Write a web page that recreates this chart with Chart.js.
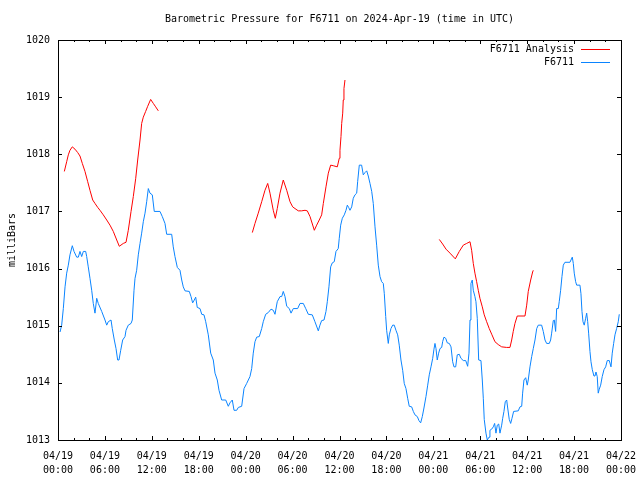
<!DOCTYPE html>
<html>
<head>
<meta charset="utf-8">
<script src="https://cdn.jsdelivr.net/npm/chart.js@4/dist/chart.umd.min.js"></script>
<style>
  html, body { margin: 0; padding: 0; background: #fff; }
  #wrap { width: 640px; height: 480px; }
</style>
</head>
<body>
<div id="wrap"><canvas id="pressureChart" width="640" height="480"></canvas></div>
<script>
// hours since 2024-04-19 00:00 UTC
const tickDates = ['04/19', '04/19', '04/19', '04/19', '04/20', '04/20', '04/20', '04/20', '04/21', '04/21', '04/21', '04/21', '04/22'];
const tickTimes = ['00:00', '06:00', '12:00', '18:00', '00:00', '06:00', '12:00', '18:00', '00:00', '06:00', '12:00', '18:00', '00:00'];

const obsHours = [
    0.26, 0.47, 0.68, 0.90, 1.11, 1.32, 1.53, 1.83, 2.05, 2.39, 2.60, 2.81, 3.03, 3.24, 3.54, 3.67, 3.87, 4.09, 4.31, 4.51,
    4.73, 4.95, 5.15, 5.59, 6.01, 6.23, 6.43, 6.78, 6.94, 7.20, 7.42, 7.63, 7.80, 8.02, 8.27, 8.57, 8.70, 8.99, 9.34, 9.50,
    9.72, 9.85, 10.06, 10.27, 10.49, 10.70, 10.91, 11.13, 11.34, 11.55, 11.76, 12.06, 12.31, 13.04, 13.34, 13.68, 13.90, 14.54, 14.74, 14.96,
    15.26, 15.60, 15.82, 16.02, 16.24, 16.79, 17.01, 17.22, 17.43, 17.61, 17.81, 18.16, 18.38, 18.67, 18.89, 19.22, 19.53, 19.86, 20.08, 20.37,
    20.59, 20.93, 21.45, 21.78, 21.99, 22.29, 22.51, 22.85, 23.06, 23.49, 23.79, 24.13, 24.55, 24.77, 24.97, 25.19, 25.41, 25.74, 26.05, 26.25,
    26.56, 26.89, 27.24, 27.53, 27.75, 28.04, 28.39, 28.61, 28.81, 29.03, 29.25, 29.58, 29.80, 30.09, 30.65, 30.95, 31.37, 31.68, 32.01, 32.52,
    32.86, 33.29, 33.50, 33.72, 34.02, 34.27, 34.44, 34.65, 34.87, 35.08, 35.33, 35.55, 35.84, 35.97, 36.15, 36.36, 36.61, 36.83, 37.00, 37.17,
    37.34, 37.56, 37.76, 37.98, 38.20, 38.32, 38.53, 38.83, 39.04, 39.26, 39.48, 39.68, 39.90, 40.12, 40.32, 40.54, 40.75, 40.96, 41.18, 41.39,
    41.60, 41.73, 41.91, 42.03, 42.24, 42.37, 42.58, 42.80, 43.00, 43.22, 43.44, 43.64, 43.86, 44.08, 44.28, 44.50, 44.72, 44.92, 45.23, 45.44,
    45.65, 45.95, 46.16, 46.38, 46.59, 46.80, 47.06, 47.28, 47.48, 47.70, 47.92, 48.08, 48.21, 48.34, 48.50, 48.68, 48.85, 49.07, 49.19, 49.36,
    49.58, 49.78, 50.04, 50.26, 50.47, 50.64, 50.86, 51.06, 51.32, 51.53, 51.83, 52.14, 52.39, 52.56, 52.69, 52.81, 52.98, 53.11, 53.32, 53.45,
    53.62, 53.80, 54.09, 54.26, 54.39, 54.51, 54.73, 54.90, 55.12, 55.24, 55.46, 55.67, 55.84, 56.01, 56.18, 56.36, 56.52, 56.74, 56.87, 57.03,
    57.20, 57.38, 57.51, 57.71, 57.89, 58.06, 58.27, 58.86, 59.08, 59.30, 59.42, 59.59, 59.81, 60.01, 60.14, 60.36, 60.58, 60.78, 61.00, 61.22,
    61.42, 61.85, 62.06, 62.28, 62.49, 62.83, 63.00, 63.13, 63.34, 63.47, 63.64, 63.77, 63.98, 64.10, 64.28, 64.45, 64.62, 64.83, 65.47, 65.60,
    65.77, 65.90, 66.02, 66.20, 66.33, 66.75, 66.88, 67.01, 67.14, 67.30, 67.48, 67.61, 67.74, 67.86, 68.03, 68.16, 68.33, 68.54, 68.67, 68.80,
    68.96, 69.09, 69.22, 69.40, 69.60, 69.82, 70.04, 70.24, 70.50, 70.72, 70.88, 71.06, 71.23, 71.44, 71.65, 71.78
];
const obsValues = [
    1014.89, 1015.01, 1015.30, 1015.68, 1015.92, 1016.06, 1016.24, 1016.40, 1016.30, 1016.20, 1016.20, 1016.30, 1016.21, 1016.30, 1016.30, 1016.21, 1016.03, 1015.83, 1015.62, 1015.39,
    1015.22, 1015.48, 1015.39, 1015.25, 1015.10, 1015.01, 1015.07, 1015.10, 1014.95, 1014.75, 1014.60, 1014.40, 1014.40, 1014.57, 1014.75, 1014.81, 1014.92, 1015.01, 1015.04, 1015.10,
    1015.62, 1015.83, 1015.97, 1016.24, 1016.44, 1016.62, 1016.82, 1016.97, 1017.17, 1017.40, 1017.32, 1017.29, 1017.00, 1017.00, 1016.91, 1016.79, 1016.60, 1016.60, 1016.38, 1016.21,
    1016.02, 1015.97, 1015.80, 1015.68, 1015.61, 1015.60, 1015.51, 1015.40, 1015.45, 1015.50, 1015.32, 1015.30, 1015.20, 1015.19, 1015.07, 1014.84, 1014.52, 1014.40, 1014.17, 1014.05,
    1013.87, 1013.70, 1013.70, 1013.59, 1013.65, 1013.70, 1013.52, 1013.52, 1013.57, 1013.59, 1013.90, 1013.99, 1014.11, 1014.25, 1014.52, 1014.72, 1014.80, 1014.81, 1014.95, 1015.07,
    1015.20, 1015.23, 1015.29, 1015.27, 1015.20, 1015.42, 1015.51, 1015.51, 1015.60, 1015.51, 1015.34, 1015.30, 1015.22, 1015.30, 1015.30, 1015.39, 1015.39, 1015.30, 1015.20, 1015.19,
    1015.07, 1014.91, 1015.01, 1015.09, 1015.10, 1015.25, 1015.42, 1015.68, 1016.03, 1016.10, 1016.12, 1016.30, 1016.35, 1016.53, 1016.76, 1016.88, 1016.94, 1017.02, 1017.11, 1017.07,
    1017.02, 1017.08, 1017.23, 1017.29, 1017.32, 1017.52, 1017.81, 1017.81, 1017.64, 1017.68, 1017.71, 1017.62, 1017.49, 1017.35, 1017.14, 1016.73, 1016.41, 1016.06, 1015.86, 1015.77,
    1015.74, 1015.56, 1015.16, 1014.92, 1014.69, 1014.84, 1014.95, 1015.01, 1015.01, 1014.92, 1014.84, 1014.66, 1014.40, 1014.22, 1013.99, 1013.90, 1013.73, 1013.59, 1013.58, 1013.50,
    1013.44, 1013.41, 1013.34, 1013.30, 1013.41, 1013.56, 1013.76, 1013.96, 1014.14, 1014.28, 1014.43, 1014.59, 1014.69, 1014.60, 1014.40, 1014.52, 1014.60, 1014.62, 1014.72, 1014.80,
    1014.78, 1014.70, 1014.69, 1014.63, 1014.37, 1014.28, 1014.28, 1014.49, 1014.50, 1014.43, 1014.39, 1014.39, 1014.29, 1014.52, 1015.10, 1015.74, 1015.80, 1015.62, 1015.51, 1015.42,
    1015.13, 1014.40, 1014.39, 1014.05, 1013.73, 1013.36, 1013.12, 1013.00, 1013.05, 1013.17, 1013.19, 1013.23, 1013.29, 1013.12, 1013.26, 1013.28, 1013.12, 1013.26, 1013.38, 1013.50,
    1013.67, 1013.70, 1013.56, 1013.36, 1013.29, 1013.38, 1013.50, 1013.51, 1013.58, 1013.59, 1013.82, 1014.05, 1014.09, 1013.96, 1014.05, 1014.28, 1014.46, 1014.60, 1014.75, 1014.95,
    1015.01, 1015.01, 1014.90, 1014.75, 1014.69, 1014.69, 1014.75, 1014.87, 1015.09, 1015.10, 1014.90, 1015.30, 1015.30, 1015.42, 1015.62, 1015.86, 1016.06, 1016.11, 1016.11, 1016.15,
    1016.20, 1016.09, 1015.92, 1015.77, 1015.71, 1015.71, 1015.56, 1015.25, 1015.07, 1015.01, 1015.13, 1015.22, 1015.07, 1014.87, 1014.55, 1014.37, 1014.23, 1014.12, 1014.12, 1014.19,
    1014.11, 1013.82, 1013.89, 1013.96, 1014.11, 1014.23, 1014.28, 1014.39, 1014.39, 1014.28, 1014.52, 1014.69, 1014.84, 1014.95, 1015.07, 1015.20
];

// analysis has gaps: null breaks the line
const anaHours = [
    0.81, 1.11, 1.32, 1.53, 1.83, 2.17, 2.52, 2.81, 3.11, 3.45, 3.80, 4.09, 4.44, 4.73, 5.08, 5.37, 5.79, 6.23, 6.65, 7.07,
    7.51, 7.84, 8.35, 8.70, 8.99, 9.34, 9.63, 9.94, 10.19, 10.49, 10.70, 10.91, 11.21, 11.47, 11.85, 12.19, 12.49, 12.83,
    18.00,
    24.85, 25.19, 25.61, 26.05, 26.47, 26.82, 27.11, 27.53, 27.79, 28.04, 28.39, 28.81, 29.25, 29.67, 30.01, 30.31, 30.73, 31.16, 31.59, 31.88,
    32.23, 32.78, 33.08, 33.41, 33.72, 33.93, 34.27, 34.57, 34.87, 35.20, 35.72, 35.97, 36.06, 36.19, 36.28, 36.41, 36.48, 36.57, 36.70,
    42.00,
    48.76, 49.19, 49.62, 50.13, 50.81, 51.32, 51.83, 52.26, 52.69, 52.90, 53.11, 53.32, 53.54, 53.75, 53.96, 54.26, 54.51, 54.82, 55.15, 55.50,
    55.88, 56.30, 56.74, 57.38, 57.80, 58.02, 58.22, 58.44, 58.73, 59.72, 59.94, 60.14, 60.45, 60.70, 60.78
];
const anaValues = [
    1017.70, 1017.87, 1017.99, 1018.07, 1018.13, 1018.09, 1018.03, 1017.97, 1017.84, 1017.70, 1017.52, 1017.37, 1017.20, 1017.14, 1017.07, 1017.02, 1016.94, 1016.85, 1016.76, 1016.65,
    1016.50, 1016.39, 1016.44, 1016.46, 1016.67, 1017.00, 1017.26, 1017.58, 1017.90, 1018.25, 1018.54, 1018.65, 1018.75, 1018.84, 1018.96, 1018.89, 1018.83, 1018.76,
    null,
    1016.63, 1016.79, 1016.97, 1017.17, 1017.37, 1017.49, 1017.32, 1017.02, 1016.88, 1017.05, 1017.32, 1017.55, 1017.37, 1017.17, 1017.08, 1017.05, 1017.01, 1017.01, 1017.02, 1017.01,
    1016.91, 1016.67, 1016.76, 1016.85, 1016.94, 1017.14, 1017.43, 1017.67, 1017.81, 1017.80, 1017.78, 1017.93, 1018.07, 1018.31, 1018.54, 1018.72, 1018.95, 1019.15, 1019.30,
    null,
    1016.51, 1016.43, 1016.34, 1016.27, 1016.17, 1016.30, 1016.41, 1016.44, 1016.47, 1016.32, 1016.09, 1015.92, 1015.77, 1015.62, 1015.48, 1015.33, 1015.19, 1015.07, 1014.95, 1014.84,
    1014.72, 1014.67, 1014.63, 1014.62, 1014.62, 1014.75, 1014.90, 1015.04, 1015.17, 1015.17, 1015.36, 1015.60, 1015.80, 1015.94, 1015.97
];

const FONT = "'DejaVu Sans Mono', 'Liberation Mono', monospace";
Chart.defaults.font.family = FONT;
Chart.defaults.font.size = 10;
Chart.defaults.color = '#000000';

const toPoints = (xs, ys) => xs.map((x, i) => ({ x: x, y: ys[i] }));

// gnuplot-like frame: box, inward ticks, title, rotated y title, legend inside top right
const framePlugin = {
    id: 'frame',
    afterDraw(chart) {
        const { ctx, chartArea: a, scales } = chart;
        const xs = scales.x;
        const ys = scales.y;
        ctx.save();
        ctx.strokeStyle = '#000000';
        ctx.lineWidth = 1;
        ctx.strokeRect(a.left + 0.5, a.top + 0.5, a.right - a.left, a.bottom - a.top);

        ctx.beginPath();
        for (let h = 0; h <= 72; h += 2) {
            const px = Math.round(xs.getPixelForValue(h)) + 0.5;
            const len = h % 6 === 0 ? 4 : 2;
            ctx.moveTo(px, a.bottom);
            ctx.lineTo(px, a.bottom - len);
            ctx.moveTo(px, a.top);
            ctx.lineTo(px, a.top + len);
        }
        for (let v = 1013; v <= 1020; v++) {
            const py = Math.round(ys.getPixelForValue(v)) + 0.5;
            ctx.moveTo(a.left, py);
            ctx.lineTo(a.left + 4, py);
            ctx.moveTo(a.right, py);
            ctx.lineTo(a.right - 4, py);
        }
        ctx.stroke();

        ctx.fillStyle = '#000000';
        ctx.font = '10px ' + FONT;
        ctx.textAlign = 'center';
        ctx.textBaseline = 'middle';
        ctx.fillText('Barometric Pressure for F6711 on 2024-Apr-19 (time in UTC)', (a.left + a.right) / 2, 19);

        ctx.save();
        ctx.translate(12, (a.top + a.bottom) / 2);
        ctx.rotate(-Math.PI / 2);
        ctx.fillText('milliBars', 0, 0);
        ctx.restore();

        ctx.textAlign = 'right';
        chart.data.datasets.forEach((ds, i) => {
            const y = 49 + i * 13;
            ctx.fillStyle = '#000000';
            ctx.fillText(ds.label, 574, y);
            ctx.strokeStyle = ds.borderColor;
            ctx.beginPath();
            ctx.moveTo(581, y + 0.5);
            ctx.lineTo(610, y + 0.5);
            ctx.stroke();
        });
        ctx.restore();
    }
};

new Chart(document.getElementById('pressureChart'), {
    type: 'line',
    data: {
        datasets: [{
            label: 'F6711 Analysis',
            data: toPoints(anaHours, anaValues),
            borderColor: '#ff0000',
            borderWidth: 1,
            pointRadius: 0,
            tension: 0,
            spanGaps: false
        }, {
            label: 'F6711',
            data: toPoints(obsHours, obsValues),
            borderColor: '#0a84ff',
            borderWidth: 1,
            pointRadius: 0,
            tension: 0
        }]
    },
    options: {
        responsive: false,
        animation: false,
        events: [],
        layout: {
            padding: { top: 40, right: 19, left: 0, bottom: 0 }
        },
        plugins: {
            legend: { display: false },
            title: { display: false },
            tooltip: { enabled: false }
        },
        scales: {
            x: {
                type: 'linear',
                min: 0,
                max: 72,
                grid: { display: false, drawTicks: false },
                border: { display: false },
                afterFit: (s) => {
                    s.height = 40;
                    s.paddingLeft = 0;
                    s.paddingRight = 0;
                },
                ticks: {
                    stepSize: 6,
                    autoSkip: false,
                    maxRotation: 0,
                    padding: 9,
                    font: { size: 10, lineHeight: 1.4 },
                    callback: (value, index) => [tickDates[index], tickTimes[index]]
                }
            },
            y: {
                min: 1013,
                max: 1020,
                grid: { display: false, drawTicks: false },
                border: { display: false },
                afterFit: (s) => {
                    s.width = 58;
                    s.paddingTop = 0;
                    s.paddingBottom = 0;
                },
                ticks: {
                    stepSize: 1,
                    padding: 8,
                    font: { size: 10 },
                    callback: (value) => String(value)
                }
            }
        }
    },
    plugins: [framePlugin]
});
</script>
</body>
</html>
